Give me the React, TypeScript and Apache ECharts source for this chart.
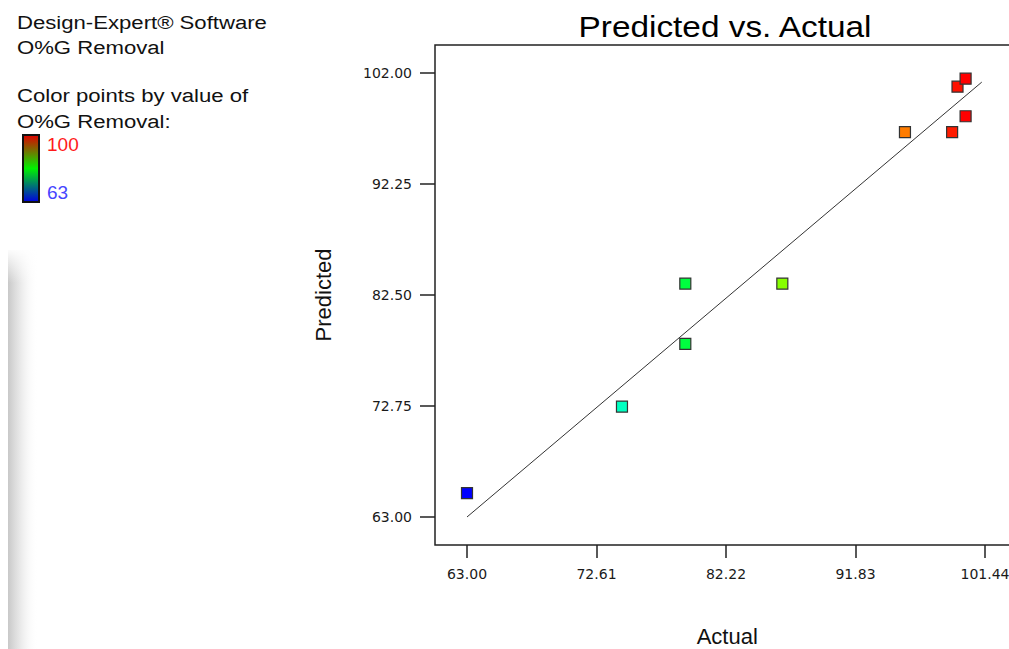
import React, { useEffect, useRef } from "react";
import * as echarts from "echarts";

// Data
const actual = [63.0, 74.5, 79.2, 79.2, 86.4, 95.5, 99.0, 100.0, 99.4, 100.0];
const predicted = [65.1, 72.7, 83.5, 78.2, 83.5, 96.8, 96.8, 98.2, 100.8, 101.5];
const xTicks = [63.0, 72.61, 82.22, 91.83, 101.44];
const yTicks = [63.0, 72.75, 82.5, 92.25, 102.0];
const fitLine = [63.0, 101.2];
const colorRange = [63, 100];
const infoLines = [
  "Design-Expert\u00AE Software",
  "O%G Removal",
  "",
  "Color points by value of",
  "O%G Removal:",
];

export default function App() {
  const ref = useRef<HTMLDivElement>(null);
  useEffect(() => {
    if (!ref.current) return;
    const chart = echarts.init(ref.current, null, { renderer: "svg" });
    const font = "'Liberation Sans', Arial, sans-serif";
    const lineYs = [23, 47.7, 0, 95.4, 121.4];
    const textEls: any[] = [];
    infoLines.forEach((t, i) => {
      if (!t) return;
      textEls.push({
        type: "text",
        x: 17,
        y: lineYs[i],
        scaleX: 1.23,
        style: {
          text: t,
          fontFamily: font,
          fontSize: 18,
          fill: "#111",
          align: "left",
          verticalAlign: "middle",
        },
      });
    });
    const option: any = {
      animation: false,
      backgroundColor: "#ffffff",
      grid: {
        left: 435,
        top: 45,
        width: 584.5,
        height: 500,
        show: true,
        borderColor: "#222",
        borderWidth: 1.5,
        backgroundColor: "transparent",
        containLabel: false,
        outerBoundsMode: "none",
      },
      xAxis: {
        type: "value",
        min: 60.625,
        max: 104,
        name: "Actual",
        nameLocation: "middle",
        nameGap: 80,
        nameTextStyle: { fontFamily: font, fontSize: 22, color: "#111" },
        axisLine: { show: false },
        splitLine: { show: false },
        axisTick: {
          show: true,
          inside: false,
          length: 13,
          customValues: xTicks,
          lineStyle: { color: "#222", width: 1.5 },
        },
        axisLabel: {
          customValues: xTicks,
          margin: 22,
          fontFamily: "'DejaVu Sans', sans-serif",
          fontSize: 14,
          color: "#1a1a1a",
          formatter: (v: number) => v.toFixed(2),
        },
      },
      yAxis: {
        type: "value",
        min: 60.54,
        max: 104.46,
        name: "Predicted",
        nameLocation: "middle",
        nameGap: 101,
        nameRotate: 90,
        nameTextStyle: { fontFamily: font, fontSize: 22, color: "#111" },
        axisLine: { show: false },
        splitLine: { show: false },
        axisTick: {
          show: true,
          inside: false,
          length: 15,
          customValues: yTicks,
          lineStyle: { color: "#222", width: 1.5 },
        },
        axisLabel: {
          customValues: yTicks,
          margin: 23,
          fontFamily: "'DejaVu Sans', sans-serif",
          fontSize: 14,
          color: "#1a1a1a",
          formatter: (v: number) => v.toFixed(2),
        },
      },
      visualMap: {
        show: false,
        type: "continuous",
        dimension: 0,
        seriesIndex: 0,
        min: colorRange[0],
        max: colorRange[1],
        inRange: {
          color: ["#0000ff", "#00ffff", "#00ff00", "#ffff00", "#ff0000"],
        },
      },
      series: [
        {
          type: "scatter",
          symbol: "rect",
          symbolSize: 11,
          z: 3,
          itemStyle: { borderColor: "#333", borderWidth: 1.2, opacity: 1 },
          data: actual.map((a, i) => [a, predicted[i]]),
        },
        {
          type: "line",
          symbol: "none",
          z: 2,
          silent: true,
          lineStyle: { color: "#333", width: 1 },
          data: fitLine.map((v) => [v, v]),
        },
      ],
      graphic: [
        {
          type: "rect",
          shape: { x: 8, y: 250, width: 30, height: 399 },
          style: {
            fill: new echarts.graphic.LinearGradient(0, 0, 1, 0, [
              { offset: 0, color: "rgba(200,200,200,1)" },
              { offset: 0.5, color: "rgba(235,235,235,0.8)" },
              { offset: 1, color: "rgba(255,255,255,0)" },
            ]),
          },
          z: 0,
        },
        {
          type: "rect",
          shape: { x: 8, y: 248, width: 32, height: 35 },
          style: {
            fill: new echarts.graphic.LinearGradient(0, 0, 0, 1, [
              { offset: 0, color: "rgba(255,255,255,1)" },
              { offset: 1, color: "rgba(255,255,255,0)" },
            ]),
          },
          z: 1,
        },
        {
          type: "text",
          x: 725,
          y: 27,
          scaleX: 1.15,
          style: {
            text: "Predicted vs. Actual",
            fontFamily: font,
            fontSize: 29,
            fill: "#000",
            align: "center",
            verticalAlign: "middle",
          },
        },
        ...textEls,
        {
          type: "rect",
          shape: { x: 23, y: 135, width: 16, height: 67 },
          style: {
            fill: new echarts.graphic.LinearGradient(0, 0, 0, 1, [
              { offset: 0, color: "#e00000" },
              { offset: 0.5, color: "#00f000" },
              { offset: 1, color: "#0000e0" },
            ]),
            stroke: "#111",
            lineWidth: 2,
          },
        },
        {
          type: "text",
          x: 47,
          y: 144,
          style: {
            text: String(colorRange[1]),
            fontFamily: font,
            fontSize: 19,
            fill: "#ff1a1a",
            align: "left",
            verticalAlign: "middle",
          },
        },
        {
          type: "text",
          x: 47,
          y: 192.5,
          style: {
            text: String(colorRange[0]),
            fontFamily: font,
            fontSize: 19,
            fill: "#4646ff",
            align: "left",
            verticalAlign: "middle",
          },
        },
      ],
    };
    chart.setOption(option);
    return () => chart.dispose();
  }, []);
  return (
    <div
      ref={ref}
      style={{
        position: "fixed",
        left: 0,
        top: 0,
        width: 1009,
        height: 649,
        background: "#fff",
      }}
    />
  );
}
